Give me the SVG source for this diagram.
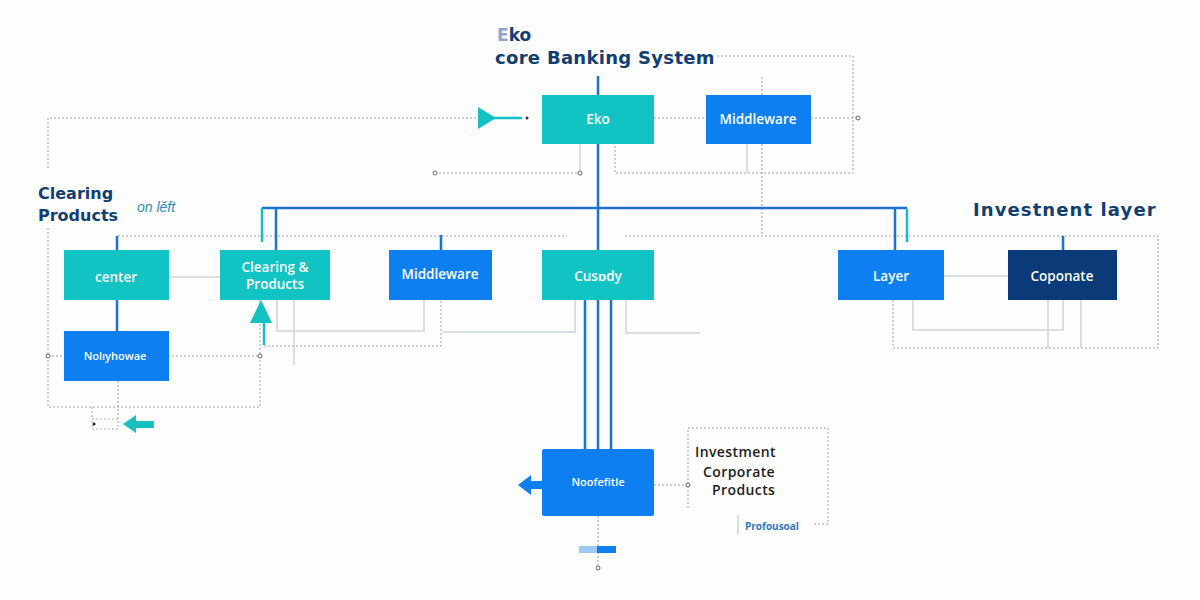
<svg xmlns="http://www.w3.org/2000/svg" width="1200" height="600" viewBox="0 0 1200 600">
<defs>
<style>
.teal{fill:#12c3c3}
.blue{fill:#0d7ff0}
.navy{fill:#0b3a78}
.lbl{font-family:"Open Sans","Liberation Sans",sans-serif;font-weight:600;font-size:13.5px;fill:#ffffff;text-anchor:middle}
.small{font-size:11px}
.head{font-family:"DejaVu Sans","Liberation Sans",sans-serif;font-weight:700;fill:#123e72}
.dot{fill:none;stroke:#9aa2aa;stroke-width:1;stroke-dasharray:2 2}
.grey{fill:none;stroke:#d0d3d6;stroke-width:1.5}
.bl{fill:none;stroke:#1b73d6;stroke-width:2.5}
.tl{fill:none;stroke:#14c0c8;stroke-width:2.5}
.circ{fill:#fff;stroke:#666;stroke-width:1}
.prod{font-family:"Open Sans","Liberation Sans",sans-serif;font-weight:600;font-size:14px;letter-spacing:0.4px;fill:#1e1e1e}
</style>
</defs>
<rect width="1200" height="600" fill="#fdfdfe"/>

<g id="connectors">
  <path class="dot" d="M48 168 V118 H478"/>
  <path class="dot" d="M48 228 V407 H260"/>
  <path class="dot" d="M92 407 V419"/>
  <path class="dot" d="M118 381 V419"/>
  <path class="dot" d="M48 356 H260"/>
  <path class="dot" d="M260 300 V407"/>
  <path class="dot" d="M264 346 H441 V300"/>
  <path class="dot" d="M118 236 H567"/>
  <path class="dot" d="M625 236 H1158 V348 H893 V300"/>
  <path class="dot" d="M654 118 H706"/>
  <path class="dot" d="M811 118 H858"/>
  <path class="dot" d="M717 56 H853 V173 H615 V144"/>
  <path class="dot" d="M762 77 V95 M762 144 V236"/>
  <path class="dot" d="M435 173 H580"/>
  <path class="dot" d="M654 485 H688"/>
  <path class="dot" d="M688 508 V428 H828 V524 H812"/>
  <path class="dot" d="M598 516 V568"/>
  <path class="grey" d="M169 277 H220"/>
  <path class="grey" d="M944 276 H1008"/>
  <path class="grey" d="M580 144 V173"/>
  <path class="grey" d="M747 144 V173"/>
  <path class="grey" d="M277 300 V331 H424 V300"/>
  <path class="grey" d="M294 300 V365"/>
  <path class="grey" d="M443 332 H575 V300"/>
  <path class="grey" d="M626 300 V333 H700"/>
  <path class="grey" d="M913 300 V330 H1063 V300"/>
  <path class="grey" d="M1048 300 V348 M1081 300 V348"/>
  <path class="grey" d="M738 515 V535"/>
  <path class="bl" d="M598 76 V95 M598 144 V250"/>
  <path class="bl" d="M262 208 H907"/>
  <path class="bl" d="M276 208 V250"/>
  <path class="bl" d="M895 208 V250"/>
  <path class="tl" d="M262 208 V242"/>
  <path class="tl" d="M907 209 V242"/>
  <path class="bl" d="M117 236 V250 M117 300 V331"/>
  <path class="bl" d="M441 235 V250"/>
  <path class="bl" d="M1063 236 V250"/>
  <path class="bl" d="M585 300 V449 M598 300 V449 M611 300 V449"/>
  <path class="tl" d="M493 118 H522"/>
  <polygon points="478,107 478,129 496,118" fill="#14c0c0"/>
  <circle cx="527" cy="118" r="1.5" fill="#333"/>
  <polygon points="261,300 250,323 272,323" fill="#14c0c0"/>
  <path class="tl" d="M264 323 V345"/>
  <polygon points="123,424 136,415 136,421 154,421 154,428 136,428 136,433" fill="#14c0c0"/>
  <rect x="92" y="419" width="26" height="10" fill="none" stroke="#aaa" stroke-dasharray="2 2"/>
  <circle cx="94" cy="424" r="1.5" fill="#222"/>
  <polygon points="518,485 531,475 531,481 542,481 542,489 531,489 531,495" fill="#0d7ff0"/>
  <rect x="579" y="546" width="19" height="7" fill="#9ec9f3"/>
  <rect x="597" y="546" width="19" height="7" fill="#0d7ff0"/>
  <circle class="circ" cx="858" cy="118" r="2"/>
  <circle class="circ" cx="435" cy="173" r="2"/>
  <circle class="circ" cx="580" cy="173" r="2"/>
  <circle class="circ" cx="48" cy="356" r="2"/>
  <circle class="circ" cx="260" cy="356" r="2"/>
  <circle class="circ" cx="688" cy="485" r="2"/>
  <circle class="circ" cx="598" cy="568" r="2"/>
</g>

<g id="title">
  <text x="497" y="41" class="head" font-size="17"><tspan fill="#8fa6c8">E</tspan>ko</text>
  <text x="495" y="64" class="head" font-size="18" letter-spacing="0.3">core Banking System</text>
</g>
<g id="label-clearing">
  <text x="38" y="199" class="head" font-size="16">Clearing</text>
  <text x="38" y="221" class="head" font-size="16">Products</text>
  <text x="137" y="212" font-family="Liberation Sans, sans-serif" font-style="italic" font-size="14" fill="#2a8cc0">on lěft</text>
</g>
<g id="label-investment">
  <text x="973" y="216" class="head" font-size="18" letter-spacing="1.1">Investnent layer</text>
</g>

<g id="node-eko"><rect class="teal" x="542" y="95" width="112" height="49"/><text class="lbl" x="598" y="124">Eko</text></g>
<g id="node-middleware-top"><rect class="blue" x="706" y="95" width="105" height="49"/><text class="lbl" x="758" y="124">Middleware</text></g>
<g id="node-center"><rect class="teal" x="64" y="250" width="105" height="50"/><text class="lbl" x="116" y="282">center</text></g>
<g id="node-clearing"><rect class="teal" x="220" y="250" width="110" height="50"/><text class="lbl" x="275" y="272">Clearing &amp;</text><text class="lbl" x="275" y="289">Products</text></g>
<g id="node-middleware-mid"><rect class="blue" x="389" y="250" width="103" height="50"/><text class="lbl" x="440" y="279">Middleware</text></g>
<g id="node-custody"><rect class="teal" x="542" y="250" width="112" height="50"/><text class="lbl" x="598" y="281">Cusɒdy</text></g>
<g id="node-layer"><rect class="blue" x="838" y="250" width="106" height="50"/><text class="lbl" x="891" y="281">Layer</text></g>
<g id="node-coporate"><rect class="navy" x="1008" y="250" width="109" height="50"/><text class="lbl" x="1062" y="281">Coponate</text></g>
<g id="node-nolly"><rect class="blue" x="64" y="331" width="105" height="50"/><text class="lbl small" x="115" y="360">Nolıyhowae</text></g>
<g id="node-noofefitle"><rect class="blue" x="542" y="449" width="112" height="67" rx="2"/><text class="lbl small" x="598" y="486">Noofefitle</text></g>

<g id="label-investment-products">
  <text x="695" y="457" class="prod">Investment</text>
  <text x="703" y="477" class="prod">Corporate</text>
  <text x="712" y="495" class="prod">Products</text>
  <text x="745" y="530" font-family="Open Sans, Liberation Sans, sans-serif" font-weight="700" font-size="10" fill="#2a7ac0">Profousoal</text>
</g>
</svg>
